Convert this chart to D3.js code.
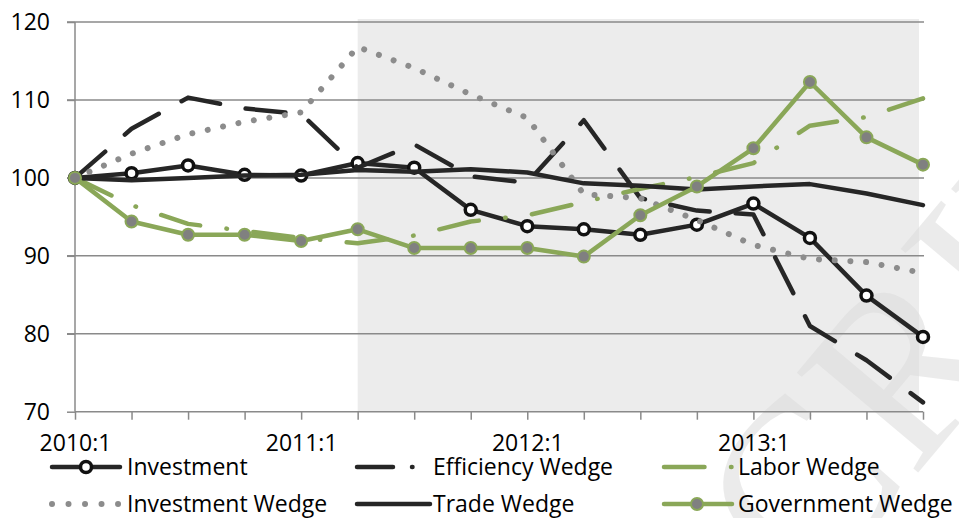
<!DOCTYPE html>
<html lang="en">
<head>
<meta charset="UTF-8">
<title>Wedges</title>
<style>
  body { margin: 0; background: #fff; }
  svg { display: block; font-family: "Open Sans", "Noto Sans", sans-serif; }
</style>
</head>
<body>
<svg width="959" height="518"></svg>
<script src="https://d3js.org/d3.v7.min.js"></script>
<script>
// quarters on the x axis
const quarters = ["2010:1","2010:2","2010:3","2010:4","2011:1","2011:2","2011:3","2011:4",
                  "2012:1","2012:2","2012:3","2012:4","2013:1","2013:2","2013:3","2013:4"];
const tickLabels = ["2010:1","2011:1","2012:1","2013:1"];
const yTicks = [70, 80, 90, 100, 110, 120];
const shadeRange = ["2011:2", "2013:4"];

// series values (index, 2010:1 = 100)
const investment = [100,100.6,101.6,100.4,100.3,101.9,101.3,95.9,93.8,93.4,92.7,94.0,96.7,92.3,84.9,79.6];
const efficiency = [100,106.3,110.3,108.9,108.2,101.3,104.3,100.2,99.4,107.4,97.4,95.8,95.3,81.0,76.6,71.2];
const labor      = [100,96.5,94.1,93.2,92.3,91.6,92.6,94.4,95.2,96.9,98.6,100.1,101.9,106.7,107.8,110.2];
const invWedge   = [100,103.1,105.6,107.2,108.4,116.8,114.1,110.7,107.7,97.9,97.4,94.6,91.4,89.6,89.2,87.8];
const trade      = [100,99.7,100.0,100.3,100.4,101.0,100.8,101.1,100.7,99.3,99.0,98.5,98.9,99.2,98.0,96.5];
const government = [100,94.4,92.7,92.7,91.9,93.4,91.0,91.0,91.0,89.9,95.2,98.9,103.8,112.3,105.2,101.7];

const BLACK = "#262626", GREEN = "#8aa758", GRAY = "#8c8c8c", AXIS = "#8a8a8a";
const FONT = 23;

const series = [
  { name: "Investment",        values: investment, color: BLACK, width: 4.5, dash: null,                   marker: "hollow" },
  { name: "Efficiency Wedge",  values: efficiency, color: BLACK, width: 4.5, dash: "40 26",                marker: null, legendDash: "36 19 0.5 60" },
  { name: "Labor Wedge",       values: labor,      color: GREEN, width: 4.5, dash: "40.5 26.5 0.5 26.5",   marker: null },
  { name: "Investment Wedge",  values: invWedge,   color: GRAY,  width: 6,   dash: "0.01 15.7",            marker: null, legendDash: "0.01 16.5" },
  { name: "Trade Wedge",       values: trade,      color: BLACK, width: 4.5, dash: null,                   marker: null },
  { name: "Government Wedge",  values: government, color: GREEN, width: 4.5, dash: null,                   marker: "filled" }
];

const svg = d3.select("svg");

const x = d3.scalePoint().domain(quarters).range([75, 923]);
const y = d3.scaleLinear().domain([70, 120]).range([411.7, 22]);

// shaded period
svg.append("rect")
  .attr("x", x(shadeRange[0]))
  .attr("y", y(120) - 3)
  .attr("width", x(shadeRange[1]) - 4 - x(shadeRange[0]))
  .attr("height", y(70) - y(120) + 3)
  .attr("fill", "#ececec");

// watermark
svg.append("text")
  .attr("transform", "translate(724,704) rotate(-50)")
  .attr("font-family", "Liberation Serif, serif")
  .attr("font-size", 240)
  .attr("fill", "#dcdcdc")
  .attr("opacity", 0.55)
  .text("SCRIPT");

// gridlines
svg.append("g").selectAll("line")
  .data(yTicks.filter(d => d > 70))
  .join("line")
  .attr("x1", 67).attr("x2", 924)
  .attr("y1", d => y(d)).attr("y2", d => y(d))
  .attr("stroke", AXIS).attr("stroke-width", 1.5);

// axes
const xAxis = svg.append("g")
  .attr("transform", `translate(0,${y(70)})`)
  .call(d3.axisBottom(x).tickSize(8).tickPadding(15)
    .tickFormat(d => tickLabels.includes(d) ? d : ""));
const yAxis = svg.append("g")
  .attr("transform", `translate(${x(quarters[0])},0)`)
  .call(d3.axisLeft(y).tickValues(yTicks).tickSize(8).tickPadding(17));

[xAxis, yAxis].forEach(g => {
  g.select(".domain").attr("stroke", AXIS).attr("stroke-width", 1.5);
  g.selectAll(".tick line").attr("stroke", AXIS).attr("stroke-width", 1.5);
  g.selectAll(".tick text").attr("fill", "#000").attr("font-size", FONT)
    .attr("font-family", "'Open Sans', sans-serif");
});
xAxis.select(".domain").attr("d", `M${x(quarters[0])},0H${x(quarters[quarters.length - 1])}`);
yAxis.select(".domain").attr("d", `M0,${y(70)}V${y(120)}`);

// lines
const line = d3.line().x((d, i) => x(quarters[i])).y(d => y(d));

series.forEach(s => {
  svg.append("path")
    .datum(s.values)
    .attr("d", line)
    .attr("fill", "none")
    .attr("stroke", s.color)
    .attr("stroke-width", s.width)
    .attr("stroke-linecap", "round")
    .attr("stroke-linejoin", "round")
    .attr("stroke-dasharray", s.dash);

  if (s.marker === "hollow") {
    svg.append("g").selectAll("circle")
      .data(s.values)
      .join("circle")
      .attr("cx", (d, i) => x(quarters[i]))
      .attr("cy", d => y(d))
      .attr("r", 5.5)
      .attr("fill", "#fff")
      .attr("stroke", "#111")
      .attr("stroke-width", 3.5);
  } else if (s.marker === "filled") {
    svg.append("g").selectAll("circle")
      .data(s.values)
      .join("circle")
      .attr("cx", (d, i) => x(quarters[i]))
      .attr("cy", d => y(d))
      .attr("r", 6)
      .attr("fill", "#808080")
      .attr("stroke", GREEN)
      .attr("stroke-width", 2);
  }
});

// legend, 3 columns x 2 rows
const colX = [50, 355, 662];
const rowY = [467, 504];
series.forEach((s, i) => {
  const lx = colX[i % 3], ly = rowY[Math.floor(i / 3)];
  const g = svg.append("g").attr("transform", `translate(${lx},${ly})`);
  g.append("line")
    .attr("x1", 2).attr("x2", i % 3 === 1 ? 75 : 70)
    .attr("y1", 0).attr("y2", 0)
    .attr("stroke", s.color)
    .attr("stroke-width", s.width)
    .attr("stroke-linecap", "round")
    .attr("stroke-dasharray", s.legendDash || s.dash);
  if (s.marker === "hollow") {
    g.append("circle").attr("cx", 36).attr("cy", 0).attr("r", 5.5)
      .attr("fill", "#fff").attr("stroke", "#111").attr("stroke-width", 3.5);
  } else if (s.marker === "filled") {
    g.append("circle").attr("cx", 35).attr("cy", 0).attr("r", 6)
      .attr("fill", "#808080").attr("stroke", GREEN).attr("stroke-width", 2);
  }
  g.append("text")
    .attr("x", i % 3 === 0 ? 77 : (i % 3 === 1 ? 78 : 76))
    .attr("y", 0)
    .attr("dy", "0.35em")
    .attr("font-size", FONT)
    .attr("fill", "#000")
    .text(s.name);
});
</script>
</body>
</html>
